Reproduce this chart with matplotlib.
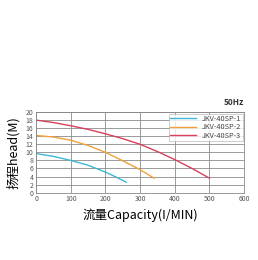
import matplotlib.pyplot as plt
import numpy as np

plt.rcParams['font.family'] = ['Noto Sans CJK SC', 'DejaVu Sans']

flow_1 = [0, 50, 100, 150, 200, 230, 260]
head_1 = [9.7, 9.0, 8.0, 6.8, 5.1, 3.9, 2.6]
flow_2 = [0, 50, 100, 150, 200, 250, 300, 340]
head_2 = [14.2, 13.8, 13.0, 11.7, 10.0, 7.9, 5.7, 3.6]
flow_3 = [0, 50, 100, 150, 200, 250, 300, 350, 400, 450, 500]
head_3 = [18.0, 17.4, 16.6, 15.7, 14.6, 13.4, 12.0, 10.2, 8.2, 6.0, 3.6]
labels = ["JKV-40SP-1", "JKV-40SP-2", "JKV-40SP-3"]
colors = ["#3db8d6", "#f0a03c", "#d8405c"]

fig = plt.figure(figsize=(2.58, 2.60), dpi=100)
ax = fig.add_axes([0.14, 0.259, 0.806, 0.31])

for x, y, lab, c in zip([flow_1, flow_2, flow_3], [head_1, head_2, head_3], labels, colors):
    ax.plot(x, y, color=c, lw=1.0, label=lab)

ax.set_xlim(0, 600)
ax.set_ylim(0, 20)
ax.set_xticks(np.arange(0, 601, 100))
ax.set_yticks(np.arange(0, 21, 2))
ax.grid(True, color="#8a8a8a", lw=0.6)
ax.tick_params(length=0, labelsize=5, colors="#555555", pad=2)
for s in ax.spines.values():
    s.set_color("#888888")
    s.set_linewidth(0.6)

leg = ax.legend(loc="upper right", fontsize=5.3, frameon=True, fancybox=False,
                handlelength=3.5, borderpad=0.2, labelspacing=0.05, borderaxespad=0.2)
leg.get_frame().set_edgecolor("#aaaaaa")
leg.get_frame().set_linewidth(0.5)
for t in leg.get_texts():
    t.set_color("#444444")

ax.text(1.0, 1.06, "50Hz", transform=ax.transAxes, ha="right", va="bottom",
        fontsize=6, fontweight="bold", color="#333333")
ax.set_xlabel("流量Capacity(I/MIN)", fontsize=9, labelpad=4)
ax.set_ylabel("扬程head(M)", fontsize=9, labelpad=4)

fig.savefig("out.png", dpi=100)
